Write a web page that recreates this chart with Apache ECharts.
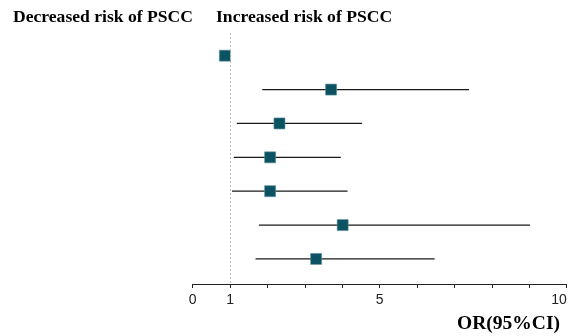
<!DOCTYPE html>
<html>
<head>
<meta charset="utf-8">
<script src="https://cdn.jsdelivr.net/npm/echarts@6/dist/echarts.min.js"></script>
<style>html,body{margin:0;padding:0;background:#fff}#c{width:581px;height:336px}</style>
</head>
<body>
<div id="c"></div>
<script>
const rows = [1, 2, 3, 4, 5, 6, 7];
const orValues = [0.86, 3.70, 2.32, 2.07, 2.07, 4.01, 3.30];
const ciLow = [0.84, 1.86, 1.18, 1.10, 1.05, 1.77, 1.68];
const ciHigh = [0.88, 7.39, 4.53, 3.96, 4.14, 9.02, 6.47];
const tickLabels = [0, 1, 5, 10];
const headerLeft = 'Decreased risk of PSCC';
const headerRight = 'Increased risk of PSCC';
const axisName = 'OR(95%CI)';

const chart = echarts.init(document.getElementById('c'), null, {renderer: 'canvas'});
const serif = '"Liberation Serif", "Times New Roman", serif';
chart.setOption({
  animation: false,
  title: [
    {text: headerLeft, left: 8, top: 3, textStyle: {fontFamily: serif, fontWeight: 'bold', fontSize: 17.6, color: '#000'}},
    {text: headerRight, left: 211, top: 3, textStyle: {fontFamily: serif, fontWeight: 'bold', fontSize: 17.6, color: '#000'}},
    {text: axisName, right: 16, top: 309, textStyle: {fontFamily: serif, fontWeight: 'bold', fontSize: 19.5, color: '#000'}}
  ],
  grid: {left: 192.7, right: 14.3, top: 33, bottom: 52},
  xAxis: {
    type: 'value', min: 0, max: 10, interval: 1,
    axisLine: {show: true, lineStyle: {color: '#222', width: 1}},
    axisTick: {show: true, length: 4, lineStyle: {color: '#222'}},
    splitLine: {show: false},
    axisLabel: {
      fontFamily: '"Liberation Sans", Arial, sans-serif', fontSize: 14, color: '#222', margin: 9,
      alignMaxLabel: 'right',
      formatter: v => tickLabels.indexOf(v) >= 0 ? String(v) : ''
    }
  },
  yAxis: {type: 'value', min: 0.33, max: 7.74, inverse: true, show: false},
  series: [
    {
      type: 'custom',
      data: rows.map((r, i) => [ciLow[i], ciHigh[i], r]),
      renderItem: function (params, api) {
        const a = api.coord([api.value(0), api.value(2)]);
        const b = api.coord([api.value(1), api.value(2)]);
        return {type: 'line', shape: {x1: a[0], y1: a[1], x2: b[0], y2: b[1]}, style: {stroke: '#1a1a1a', lineWidth: 1.3}};
      },
      z: 2
    },
    {
      type: 'scatter',
      symbol: 'rect', symbolSize: 11,
      data: rows.map((r, i) => [orValues[i], r]),
      itemStyle: {color: '#0b5263', borderColor: '#5e8e99', borderWidth: 0.6, opacity: 1},
      z: 3,
      markLine: {
        silent: true, symbol: 'none', label: {show: false},
        lineStyle: {type: [2, 2], color: '#bbbbbb', width: 1},
        data: [{xAxis: 1}]
      }
    }
  ]
});
</script>
</body>
</html>
